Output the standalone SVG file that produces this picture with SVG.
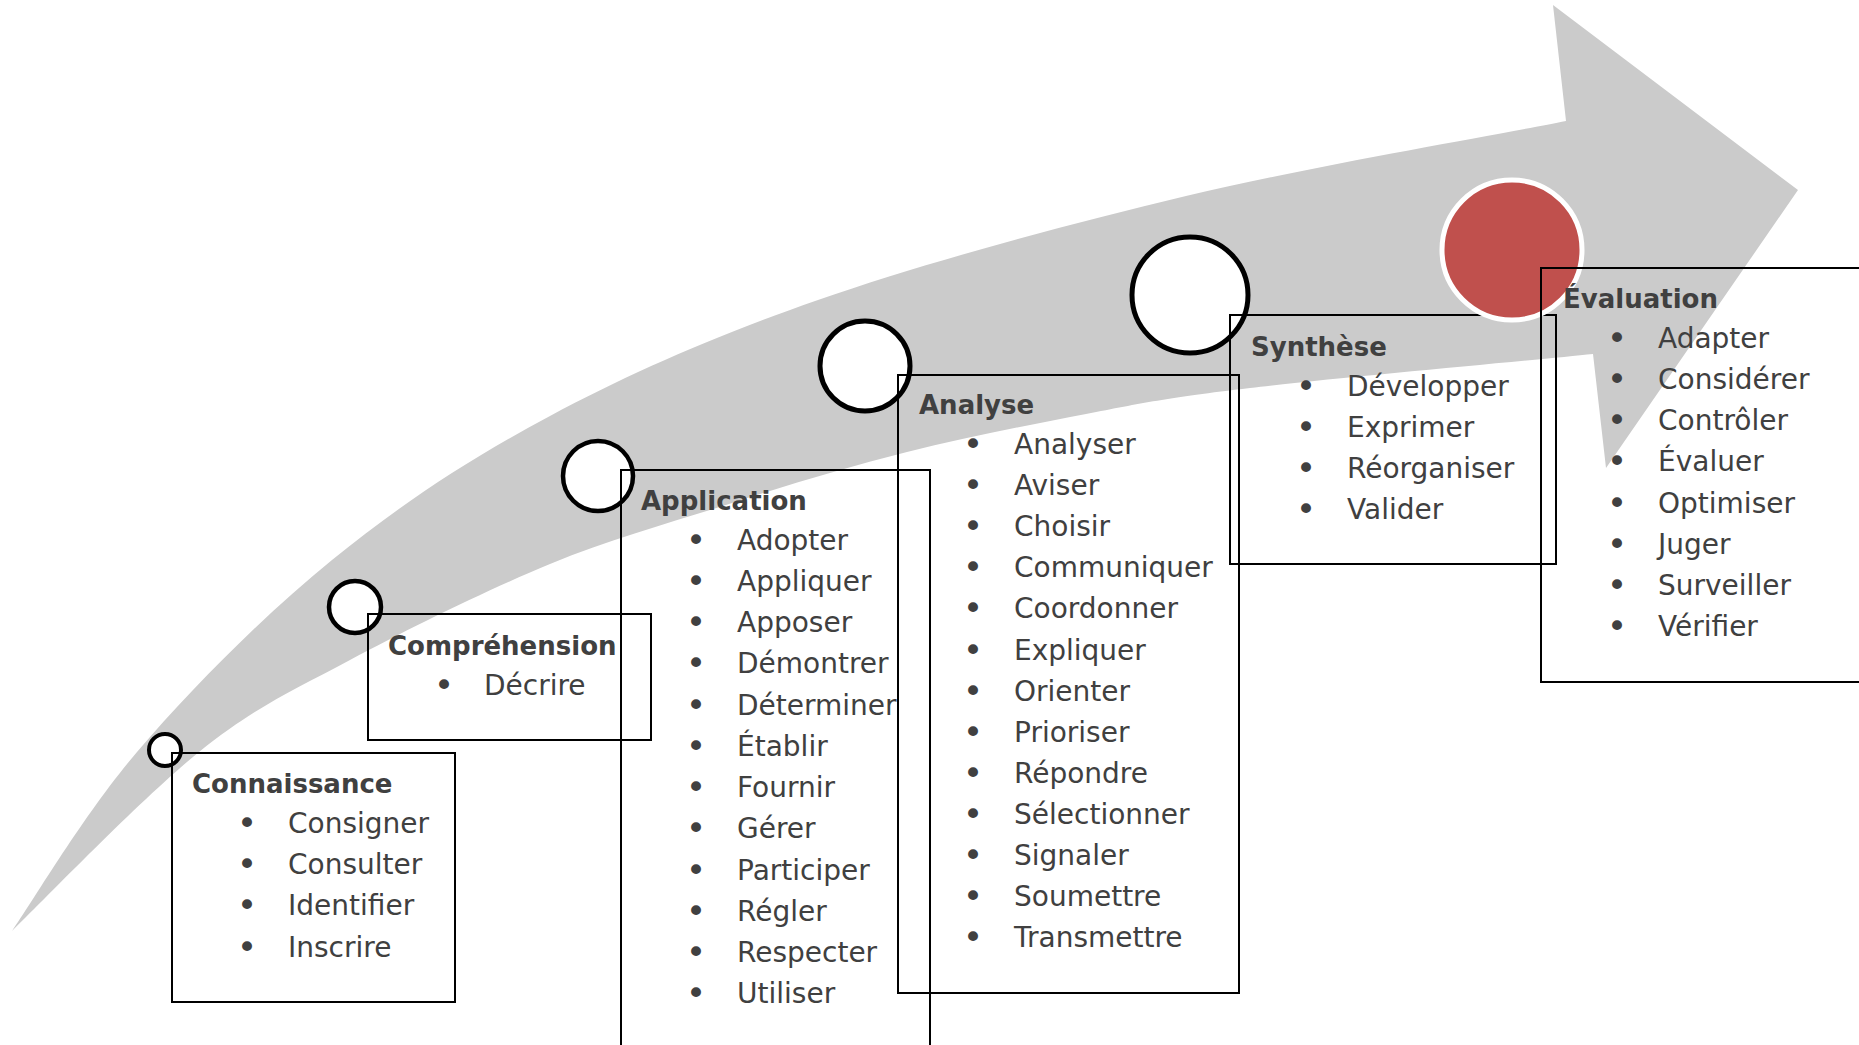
<svg xmlns="http://www.w3.org/2000/svg" width="1859" height="1045" viewBox="0 0 1859 1045">
<style>
.box{fill:none;stroke:#000;stroke-width:2}
.ring{fill:#fff;stroke:#000}
.h{font-family:"DejaVu Sans",Verdana,sans-serif;font-weight:bold;font-size:26px;fill:#404040}
.t{font-family:"DejaVu Sans",Verdana,sans-serif;font-size:28px;fill:#404040}
.b{font-family:"DejaVu Sans",Verdana,sans-serif;font-size:34px;fill:#404040;text-anchor:middle}
</style>
<rect width="1859" height="1045" fill="#fff"/>
<g id="arrow">
<path fill="#cbcbcb" d="M12,931 C33,901 84,814 137,752 C190,690 263,616 332,560 C401,504 469,459 550,416 C631,373 712,337 818,300 C924,263 1061,226 1186,196 C1311,166 1503,134 1566,121 L1553,5 L1798,190 L1606,468 L1593,354 C1536,360 1334,378 1250,388 C1165,398 1143,403 1086,414 C1029,425 966,437 907,452 C847,467 788,485 729,504 C670,523 613,538 550,564 C487,590 408,629 350,660 C292,691 255,707 199,752 C143,797 43,901 12,931 Z"/>
</g>
<g id="connectors"></g>
<g id="connaissance">
<circle class="ring" cx="165" cy="750" r="16" stroke-width="4"/>
<rect class="box" x="172" y="753" width="283" height="249"/>
<text class="h" x="192" y="793">Connaissance</text>
<text class="b" x="247" y="835">•</text><text class="t" x="288" y="833">Consigner</text>
<text class="b" x="247" y="876">•</text><text class="t" x="288" y="874">Consulter</text>
<text class="b" x="247" y="917">•</text><text class="t" x="288" y="915">Identifier</text>
<text class="b" x="247" y="959">•</text><text class="t" x="288" y="957">Inscrire</text>
</g>
<g id="comprehension">
<circle class="ring" cx="355" cy="607" r="26" stroke-width="4.5"/>
<rect class="box" x="368" y="614" width="283" height="126"/>
<text class="h" x="388" y="655">Compréhension</text>
<text class="b" x="444" y="697">•</text><text class="t" x="484" y="695">Décrire</text>
</g>
<g id="application">
<circle class="ring" cx="598" cy="476" r="35" stroke-width="4.5"/>
<rect class="box" x="621" y="470" width="309" height="600"/>
<text class="h" x="641" y="510">Application</text>
<text class="b" x="696" y="552">•</text><text class="t" x="737" y="550">Adopter</text>
<text class="b" x="696" y="593">•</text><text class="t" x="737" y="591">Appliquer</text>
<text class="b" x="696" y="634">•</text><text class="t" x="737" y="632">Apposer</text>
<text class="b" x="696" y="675">•</text><text class="t" x="737" y="673">Démontrer</text>
<text class="b" x="696" y="717">•</text><text class="t" x="737" y="715">Déterminer</text>
<text class="b" x="696" y="758">•</text><text class="t" x="737" y="756">Établir</text>
<text class="b" x="696" y="799">•</text><text class="t" x="737" y="797">Fournir</text>
<text class="b" x="696" y="840">•</text><text class="t" x="737" y="838">Gérer</text>
<text class="b" x="696" y="882">•</text><text class="t" x="737" y="880">Participer</text>
<text class="b" x="696" y="923">•</text><text class="t" x="737" y="921">Régler</text>
<text class="b" x="696" y="964">•</text><text class="t" x="737" y="962">Respecter</text>
<text class="b" x="696" y="1005">•</text><text class="t" x="737" y="1003">Utiliser</text>
</g>
<g id="analyse">
<circle class="ring" cx="865" cy="366" r="45" stroke-width="5"/>
<rect class="box" x="898" y="375" width="341" height="618"/>
<text class="h" x="919" y="414">Analyse</text>
<text class="b" x="973" y="456">•</text><text class="t" x="1014" y="454">Analyser</text>
<text class="b" x="973" y="497">•</text><text class="t" x="1014" y="495">Aviser</text>
<text class="b" x="973" y="538">•</text><text class="t" x="1014" y="536">Choisir</text>
<text class="b" x="973" y="579">•</text><text class="t" x="1014" y="577">Communiquer</text>
<text class="b" x="973" y="620">•</text><text class="t" x="1014" y="618">Coordonner</text>
<text class="b" x="973" y="662">•</text><text class="t" x="1014" y="660">Expliquer</text>
<text class="b" x="973" y="703">•</text><text class="t" x="1014" y="701">Orienter</text>
<text class="b" x="973" y="744">•</text><text class="t" x="1014" y="742">Prioriser</text>
<text class="b" x="973" y="785">•</text><text class="t" x="1014" y="783">Répondre</text>
<text class="b" x="973" y="826">•</text><text class="t" x="1014" y="824">Sélectionner</text>
<text class="b" x="973" y="867">•</text><text class="t" x="1014" y="865">Signaler</text>
<text class="b" x="973" y="908">•</text><text class="t" x="1014" y="906">Soumettre</text>
<text class="b" x="973" y="949">•</text><text class="t" x="1014" y="947">Transmettre</text>
</g>
<g id="synthese">
<circle class="ring" cx="1190" cy="295" r="58" stroke-width="5"/>
<rect class="box" x="1230" y="315" width="326" height="249"/>
<text class="h" x="1251" y="356">Synthèse</text>
<text class="b" x="1306" y="398">•</text><text class="t" x="1347" y="396">Développer</text>
<text class="b" x="1306" y="439">•</text><text class="t" x="1347" y="437">Exprimer</text>
<text class="b" x="1306" y="480">•</text><text class="t" x="1347" y="478">Réorganiser</text>
<text class="b" x="1306" y="521">•</text><text class="t" x="1347" y="519">Valider</text>
</g>
<g id="evaluation">
<circle cx="1512" cy="250" r="70" fill="#c0504d" stroke="#fff" stroke-width="5"/>
<rect class="box" x="1541" y="268" width="340" height="414"/>
<text class="h" x="1563" y="308">Évaluation</text>
<text class="b" x="1617" y="350">•</text><text class="t" x="1658" y="348">Adapter</text>
<text class="b" x="1617" y="391">•</text><text class="t" x="1658" y="389">Considérer</text>
<text class="b" x="1617" y="432">•</text><text class="t" x="1658" y="430">Contrôler</text>
<text class="b" x="1617" y="473">•</text><text class="t" x="1658" y="471">Évaluer</text>
<text class="b" x="1617" y="515">•</text><text class="t" x="1658" y="513">Optimiser</text>
<text class="b" x="1617" y="556">•</text><text class="t" x="1658" y="554">Juger</text>
<text class="b" x="1617" y="597">•</text><text class="t" x="1658" y="595">Surveiller</text>
<text class="b" x="1617" y="638">•</text><text class="t" x="1658" y="636">Vérifier</text>
</g>
</svg>
